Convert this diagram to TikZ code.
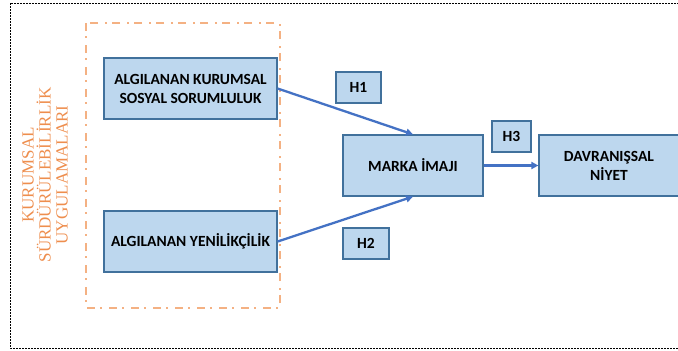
\documentclass[tikz,border=0pt]{standalone}
\usepackage{fontspec}
\setmainfont{Carlito}
\newfontfamily\orserif{Liberation Serif}
\usepackage{tikz}
\usetikzlibrary{positioning,arrows.meta}

\definecolor{boxfill}{HTML}{BDD7EE}
\definecolor{boxline}{HTML}{41719C}
\definecolor{arrblue}{HTML}{4472C4}
\definecolor{orframe}{HTML}{F4B183}
\definecolor{ortext}{HTML}{EE8E4E}

\begin{document}
\begin{tikzpicture}[
  x=1pt, y=-1pt,
  lbl/.style={font=\bfseries\fontsize{15.5}{19}\selectfont, align=center},
  box/.style={draw=boxline, line width=1.2pt, fill=boxfill, lbl, inner sep=0pt},
  hbox/.style={box, minimum height=31pt},
  arr/.style={-{Triangle[length=7pt,width=7pt]}, arrblue, line width=2.3pt}
]
  \useasboundingbox (0,0) rectangle (678,351);

  % Outer dashed frame (runs past the right edge)
  \draw[black, line width=0.8pt, dash pattern=on 2pt off 1pt] (10,3) rectangle (700,348);

  % Orange dash-dot group
  \draw[orframe, line width=2pt, dash pattern=on 8pt off 5pt on 2pt off 7pt] (86,23) rectangle (280,308);
  \node[ortext, rotate=90, align=center, font=\orserif\fontsize{17}{17}\selectfont] (grp) at (45,175)
    {KURUMSAL\\SÜRDÜRÜLEBİLİRLİK\\UYGULAMALARI};

  % Construct boxes
  \node[box, minimum width=173pt, minimum height=61pt] (kss) at (190.5,88.5)
    {ALGILANAN KURUMSAL\\SOSYAL SORUMLULUK};
  \node[box, minimum width=173pt, minimum height=61pt] (yen) at (190.5,241.5)
    {ALGILANAN YENİLİKÇİLİK};
  \node[box, minimum width=140pt, minimum height=61pt] (imaj) at (413,165.5)
    {MARKA İMAJI};
  \node[box, minimum width=140pt, minimum height=61pt] (niyet) at (609,165.5)
    {DAVRANIŞSAL\\NİYET};

  % Hypothesis labels
  \node[hbox, minimum width=45pt] (h1) at (358.5,87.5) {H1};
  \node[hbox, minimum width=46pt] (h2) at (366,243.5) {H2};
  \node[hbox, minimum width=39pt] (h3) at (511.5,136.5) {H3};

  % Paths
  \draw[arr] (kss.east) -- (imaj.north);
  \draw[arr] (yen.east) -- (imaj.south);
  \draw[arr] (imaj.east) -- (niyet.west);
\end{tikzpicture}
\end{document}
